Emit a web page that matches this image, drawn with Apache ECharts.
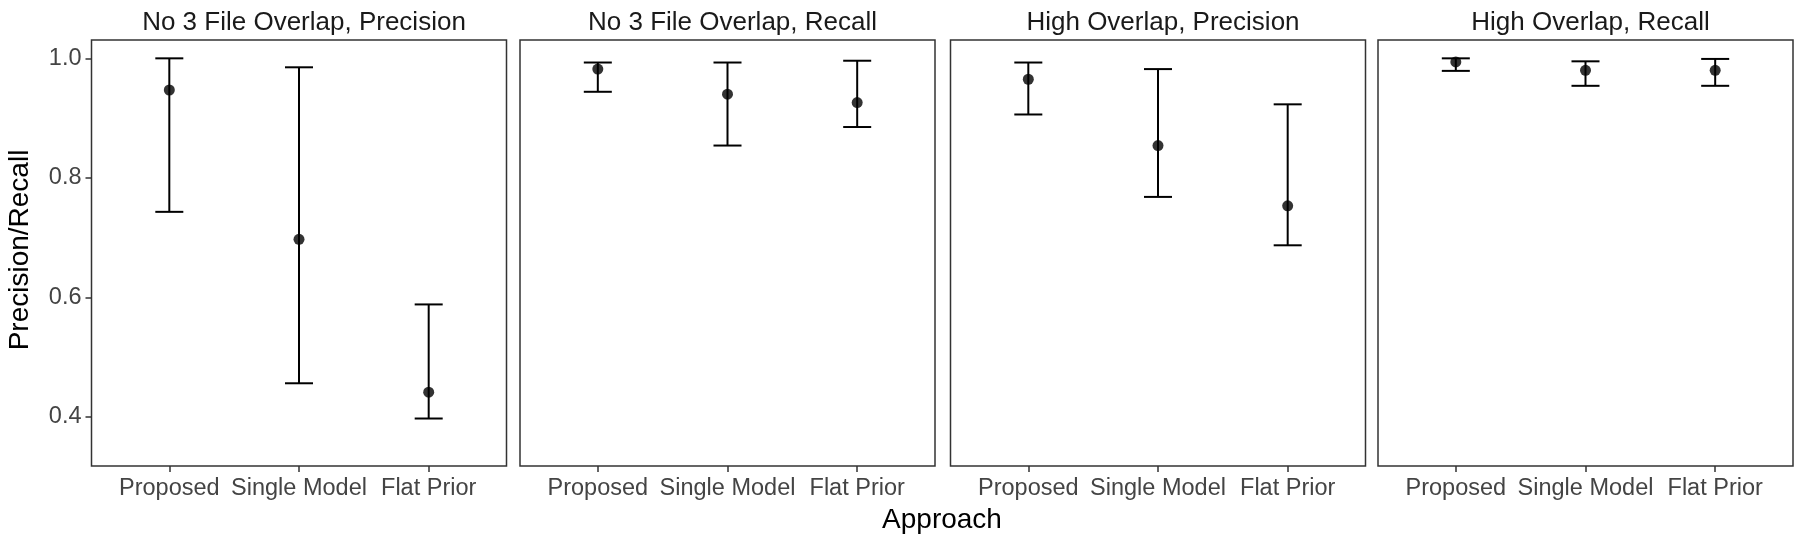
<!DOCTYPE html>
<html>
<head>
<meta charset="utf-8">
<script src="https://cdn.jsdelivr.net/npm/echarts@6/dist/echarts.min.js"></script>
<style>
html,body{margin:0;padding:0;background:#fff;}
#chart{width:1800px;height:540px;}
</style>
</head>
<body>
<div id="chart"></div>
<script>
const categories = ['Proposed', 'Single Model', 'Flat Prior'];
const panelTitles = ['No 3 File Overlap, Precision', 'No 3 File Overlap, Recall', 'High Overlap, Precision', 'High Overlap, Recall'];
const yTicks = [0.4, 0.6, 0.8, 1.0];

const p1Mean  = [0.947, 0.697, 0.441];
const p1Lower = [0.743, 0.456, 0.397];
const p1Upper = [1.000, 0.985, 0.588];

const p2Mean  = [0.982, 0.940, 0.926];
const p2Lower = [0.944, 0.854, 0.885];
const p2Upper = [0.993, 0.993, 0.996];

const p3Mean  = [0.965, 0.854, 0.753];
const p3Lower = [0.906, 0.768, 0.687];
const p3Upper = [0.993, 0.982, 0.923];

const p4Mean  = [0.994, 0.980, 0.980];
const p4Lower = [0.979, 0.954, 0.954];
const p4Upper = [1.000, 0.995, 0.999];

const panels = [
  {mean: p1Mean, lower: p1Lower, upper: p1Upper},
  {mean: p2Mean, lower: p2Lower, upper: p2Upper},
  {mean: p3Mean, lower: p3Lower, upper: p3Upper},
  {mean: p4Mean, lower: p4Lower, upper: p4Upper}
];

const FONT = 'Liberation Sans, Arial, sans-serif';
const gridLefts = [91.5, 520, 950.5, 1378];
const gridWidth = 415;
const gridTop = 40;
const gridHeight = 426;
const yMin = 0.3175, yMax = 1.0307;
const capHalf = 0.108;

const grids = [], xAxes = [], yAxes = [], series = [], titles = [];
panels.forEach((p, i) => {
  grids.push({left: gridLefts[i], top: gridTop, width: gridWidth, height: gridHeight,
    show: true, borderColor: '#333', borderWidth: 1.5, backgroundColor: '#fff', containLabel: false});
  xAxes.push({
    type: 'value', gridIndex: i, min: 0.4, max: 3.6,
    axisLine: {show: false},
    splitLine: {show: false},
    axisTick: {show: true, customValues: [1, 2, 3], length: 6, lineStyle: {color: '#333', width: 1.5}},
    axisLabel: {show: true, customValues: [1, 2, 3], margin: 11, color: '#444', fontSize: 23.5, fontFamily: FONT,
      formatter: v => categories[Math.round(v) - 1] || ''}
  });
  yAxes.push({
    type: 'value', gridIndex: i, min: yMin, max: yMax,
    axisLine: {show: false},
    splitLine: {show: false},
    axisTick: {show: i === 0, customValues: yTicks, length: 6, lineStyle: {color: '#333', width: 1.5}},
    axisLabel: {show: i === 0, customValues: yTicks, margin: 10, color: '#444', fontSize: 23.5, fontFamily: FONT,
      formatter: v => v.toFixed(1)}
  });
  series.push({
    type: 'custom', xAxisIndex: i, yAxisIndex: i,
    data: categories.map((c, k) => [k + 1, p.lower[k], p.upper[k]]),
    renderItem: function (params, api) {
      const x = api.value(0);
      const lo = api.coord([x, api.value(1)]);
      const hi = api.coord([x, api.value(2)]);
      const l = api.coord([x - capHalf, api.value(1)]);
      const r = api.coord([x + capHalf, api.value(1)]);
      const st = {stroke: '#000', lineWidth: 2};
      return {type: 'group', children: [
        {type: 'line', shape: {x1: lo[0], y1: lo[1], x2: hi[0], y2: hi[1]}, style: st},
        {type: 'line', shape: {x1: l[0], y1: lo[1], x2: r[0], y2: lo[1]}, style: st},
        {type: 'line', shape: {x1: l[0], y1: hi[1], x2: r[0], y2: hi[1]}, style: st}
      ]};
    },
    silent: true, animation: false
  });
  series.push({
    type: 'scatter', xAxisIndex: i, yAxisIndex: i,
    data: categories.map((c, k) => [k + 1, p.mean[k]]),
    symbol: 'circle', symbolSize: 11,
    itemStyle: {color: '#000'},
    silent: true, animation: false
  });
  titles.push({
    text: panelTitles[i], left: gridLefts[i] + gridWidth / 2, top: 5, textAlign: 'center',
    textStyle: {fontFamily: FONT, fontSize: 26, fontWeight: 'normal', color: '#1a1a1a'}
  });
});

const chart = echarts.init(document.getElementById('chart'), null, {renderer: 'canvas'});
chart.setOption({
  backgroundColor: '#fff',
  animation: false,
  title: titles,
  grid: grids,
  xAxis: xAxes,
  yAxis: yAxes,
  series: series,
  graphic: [
    {type: 'text', x: 942, y: 520, style: {text: 'Approach', fontFamily: FONT, fontSize: 28, fill: '#000', textAlign: 'center', textVerticalAlign: 'middle'}},
    {type: 'text', x: 20, y: 250, rotation: Math.PI / 2, style: {text: 'Precision/Recall', fontFamily: FONT, fontSize: 28, fill: '#000', textAlign: 'center', textVerticalAlign: 'middle'}}
  ]
});
</script>
</body>
</html>
